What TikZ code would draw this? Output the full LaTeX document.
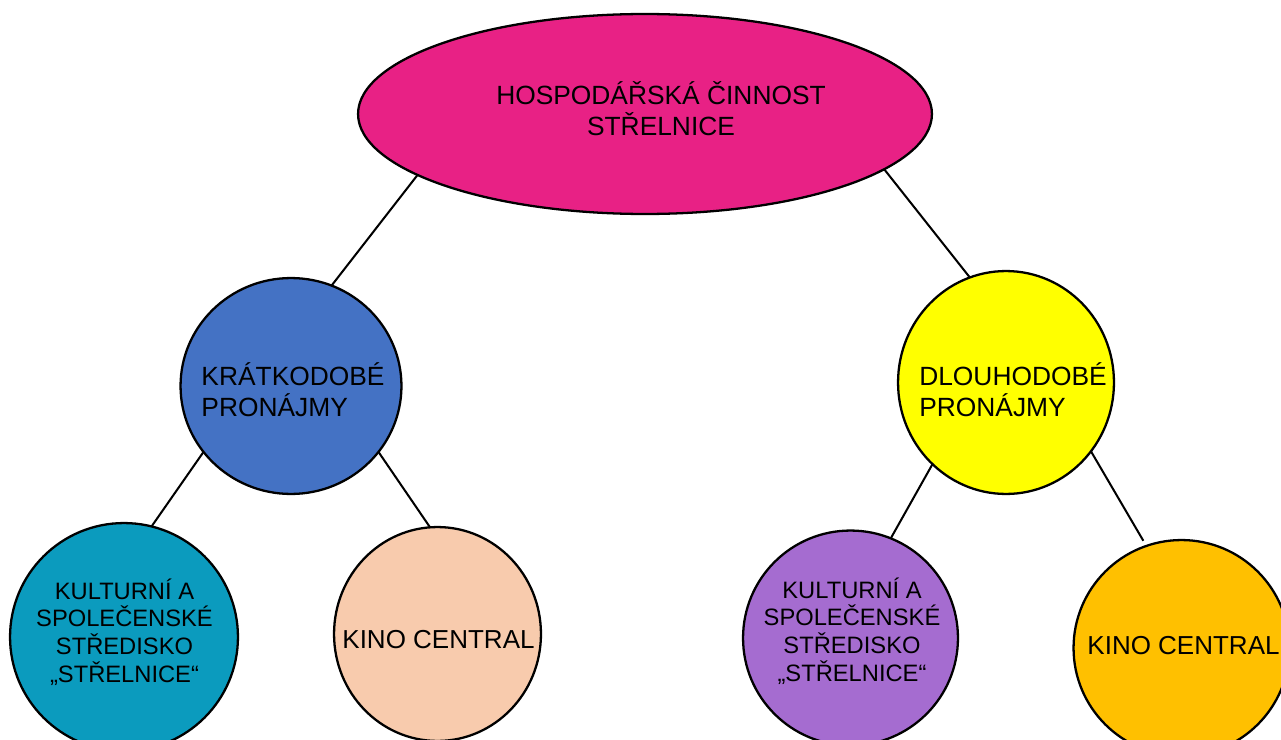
\documentclass[tikz,border=0pt]{standalone}
\usepackage{fontspec}
\setmainfont{Liberation Sans}
\usepackage{tikz}
\usetikzlibrary{positioning, shapes.geometric}
\tikzstyle{chart} = [x = .02cm, y = -.02cm]
\definecolor{rootColor}{RGB}{232,33,133}
\definecolor{shortColor}{RGB}{68,114,196}
\definecolor{longColor}{RGB}{255,255,0}
\definecolor{cultureShortColor}{RGB}{11,155,190}
\definecolor{cinemaShortColor}{RGB}{248,203,173}
\definecolor{cultureLongColor}{RGB}{165,108,208}
\definecolor{cinemaLongColor}{RGB}{255,192,0}
\tikzstyle{rootStyle} = [ellipse, draw=black, line width=1.3pt, fill=rootColor, minimum width=11.48cm, minimum height=4cm, inner sep=0, outer sep=0]
\tikzstyle{bubbleStyle} = [ellipse, draw=black, line width=1.3pt, inner sep=0, outer sep=0]
\tikzstyle{bigText} = [font=\fontsize{15}{17.6}\selectfont, align=left, inner sep=0]
\tikzstyle{smallText} = [font=\fontsize{13.5}{15.7}\selectfont, align=center, inner sep=0]
\tikzstyle{cinemaText} = [font=\fontsize{14.8}{17.6}\selectfont, inner sep=0]
\tikzstyle{branchLine} = [line width=1.15pt]
\newcommand{\bubble}[6]{\node [bubbleStyle, fill=#6, minimum width=#4*0.04cm, minimum height=#5*0.04cm] (#1) at (#2,#3) {};}
\newcommand{\bubbleText}[5]{\node [#4] (#1Text) at (#2,#3) {#5};}
\newcommand{\branch}[4]{\draw [branchLine] (#1.#2) -- (#3.#4);}

\begin{document}
\begin{tikzpicture}[chart]
    \clip (0,0) rectangle (1281,740);
    \node [rootStyle] (root) at (645,114) {};
    \bubbleText{root}{661}{109}{bigText, align=center}{HOSPODÁŘSKÁ ČINNOST\\STŘELNICE}
    \bubble{shortRent}{291}{386}{110.5}{108}{shortColor}
    \bubbleText{shortRent}{293}{390}{bigText}{KRÁTKODOBÉ\\PRONÁJMY}
    \bubble{longRent}{1006}{382.5}{108}{111.5}{longColor}
    \bubbleText{longRent}{1013}{390}{bigText}{DLOUHODOBÉ\\PRONÁJMY}
    \bubble{cultureShort}{124}{637}{114}{114}{cultureShortColor}
    \bubbleText{cultureShort}{124.5}{632}{smallText}{KULTURNÍ A\\SPOLEČENSKÉ\\STŘEDISKO\\„STŘELNICE“}
    \bubble{cinemaShort}{437.5}{634}{103.5}{107}{cinemaShortColor}
    \bubbleText{cinemaShort}{438.5}{639.5}{cinemaText}{KINO CENTRAL}
    \bubble{cultureLong}{850.5}{638}{107.5}{107.5}{cultureLongColor}
    \bubbleText{cultureLong}{852}{631}{smallText}{KULTURNÍ A\\SPOLEČENSKÉ\\STŘEDISKO\\„STŘELNICE“}
    \bubble{cinemaLong}{1181.5}{648}{108}{108}{cinemaLongColor}
    \bubbleText{cinemaLong}{1183.5}{645.5}{cinemaText}{KINO CENTRAL}
    % vetve
    \branch{root}{195}{shortRent}{68}
    \branch{root}{-13}{longRent}{109}
    \branch{shortRent}{217}{cultureShort}{76}
    \branch{shortRent}{-37}{cinemaShort}{94}
    \branch{longRent}{228}{cultureLong}{68}
    \draw [branchLine, shorten >=.12cm] (longRent.-39) -- (cinemaLong.109);
\end{tikzpicture}
\end{document}
